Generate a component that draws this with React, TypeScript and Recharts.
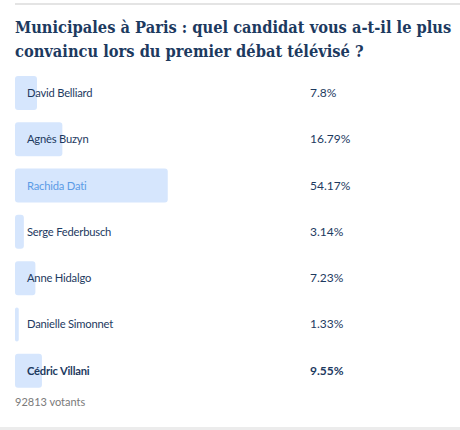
import { BarChart, Bar, XAxis, YAxis, LabelList } from 'recharts'

const candidates = [
  'David Belliard',
  'Agnès Buzyn',
  'Rachida Dati',
  'Serge Federbusch',
  'Anne Hidalgo',
  'Danielle Simonnet',
  'Cédric Villani',
]
const shares = [7.8, 16.79, 54.17, 3.14, 7.23, 1.33, 9.55]
const valueLabels = ['7.8%', '16.79%', '54.17%', '3.14%', '7.23%', '1.33%', '9.55%']
const highlighted = 'Rachida Dati'
const selected = 'Cédric Villani'
const voters = '92813 votants'
const titleLines = ['Municipales à Paris : quel candidat vous a-t-il le plus', 'convaincu lors du premier débat télévisé ?']

const data = candidates.map((name, i) => ({ name, share: shares[i], label: valueLabels[i] }))

const navy = '#1d3a5f'
const sans = 'Lato, "Source Sans Pro", "Noto Sans", sans-serif'

function RowLabel(props: any) {
  const { y, height, index } = props
  const d = data[index]
  const cy = y + height / 2
  const bold = d.name === selected
  return (
    <g>
      <text
        x={27}
        y={cy}
        dy={4}
        fontSize={11.2}
        letterSpacing={-0.2}
        fontFamily={sans}
        fontWeight={bold ? 700 : 400}
        fill={d.name === highlighted ? '#5b9be6' : navy}
      >
        {d.name}
      </text>
      <text x={310} y={cy} dy={4} fontSize={12} fontFamily={sans} fontWeight={bold ? 700 : 400} fill={navy}>
        {d.label}
      </text>
    </g>
  )
}

export default function App() {
  return (
    <div style={{ position: 'absolute', left: 0, top: 0, width: 460, height: 430, background: '#fff', overflow: 'hidden' }}>
      <div style={{ position: 'absolute', left: 15, top: 3, width: 445, height: 2, background: '#e4e4e4' }} />
      <div
        style={{
          position: 'absolute',
          left: 15,
          top: 16,
          width: 445,
          whiteSpace: 'nowrap',
          fontFamily: '"DejaVu Serif Condensed", "DejaVu Serif", serif',
          fontWeight: 700,
          fontSize: 16.3,
          lineHeight: '24px',
          color: navy,
        }}
      >
        {titleLines.map((t) => (
          <div key={t}>{t}</div>
        ))}
      </div>
      <div style={{ position: 'absolute', left: 0, top: 70 }}>
        <BarChart
          width={460}
          height={324}
          data={data}
          layout="vertical"
          margin={{ top: 0, right: 163, bottom: 0, left: 15 }}
          barSize={34}
        >
          <XAxis type="number" domain={[0, 100]} hide />
          <YAxis type="category" dataKey="name" hide />
          <Bar dataKey="share" fill="#d6e6fd" radius={3} isAnimationActive={false}>
            <LabelList dataKey="name" content={<RowLabel />} />
          </Bar>
        </BarChart>
      </div>
      <div style={{ position: 'absolute', left: 15, top: 395, fontFamily: sans, fontSize: 11, color: '#7a7a7a' }}>
        {voters}
      </div>
      <div style={{ position: 'absolute', left: 0, top: 427, width: 460, height: 3, background: '#ececec' }} />
    </div>
  )
}
